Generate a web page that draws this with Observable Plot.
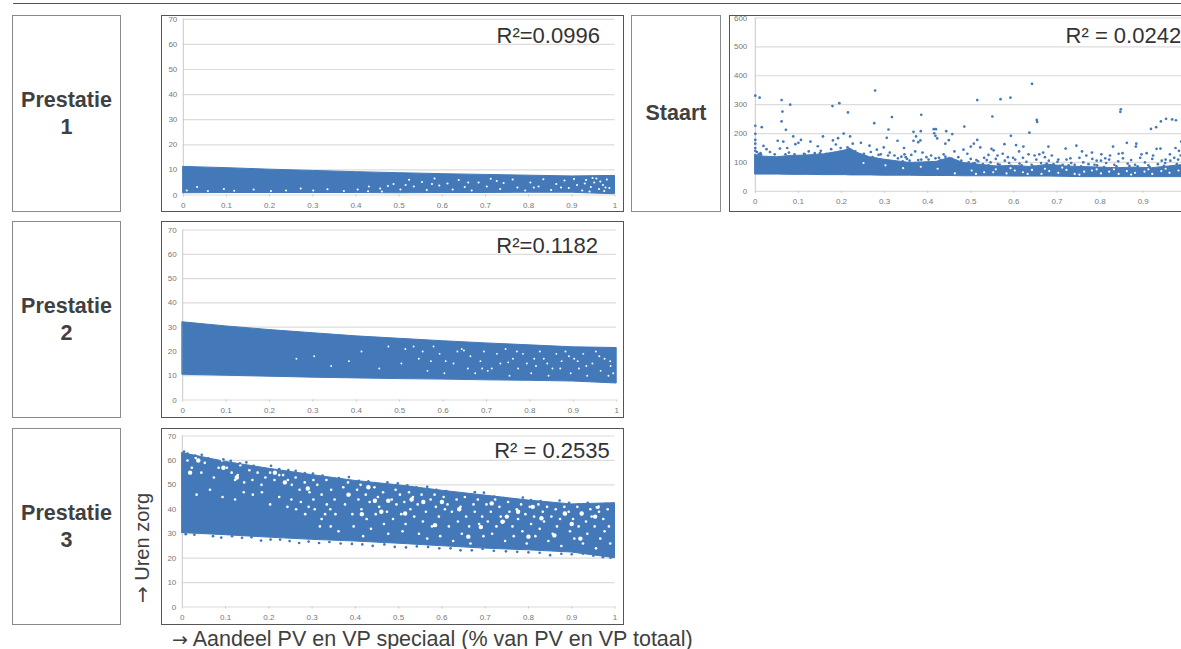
<!DOCTYPE html>
<html><head><meta charset="utf-8">
<script src="https://cdn.jsdelivr.net/npm/d3@7"></script>
<script src="https://cdn.jsdelivr.net/npm/@observablehq/plot@0.6"></script>
<style>
html,body{margin:0;padding:0;background:#fff;width:1181px;height:649px;overflow:hidden;font-family:"Liberation Sans",Arial,sans-serif}
.abs{position:absolute;box-sizing:border-box}
.box{border:1px solid #8a8a8a;display:flex;align-items:center;justify-content:center;text-align:center;font-weight:bold;font-size:21.5px;line-height:27px;color:#404040}
.frame{border:1.5px solid #555;overflow:hidden;background:#fff}
.arrow{font-family:"DejaVu Sans",sans-serif}
svg g[aria-label="dot"],svg g[aria-label="area"]{filter:blur(.4px)}
</style></head><body>
<div class="abs" style="left:13px;top:3px;width:1168px;height:1px;background:#555"></div>
<div id="page"></div>
<script>
const xTicks = [0,.1,.2,.3,.4,.5,.6,.7,.8,.9,1];
const hourTicks = [0,10,20,30,40,50,60,70];
const tailTicks = [0,100,200,300,400,500,600];
const boxLabels = ["Prestatie<br>1","Prestatie<br>2","Prestatie<br>3","Staart"];
const r2Labels = ["R²=0.0996","R²=0.1182","R² = 0.2535","R² = 0.0242"];
const yTitle = "Uren zorg";
const xTitle = "Aandeel PV en VP speciaal (% van PV en VP totaal)";

// Dense bands: lower and upper edge of the point cloud
const p1Low  = [.7,.8,.8,.8,.8,.7,.8,.8,.9,.9,.3];
const p1High = [11.2,10.7,10.1,9.6,9.1,8.7,8.3,8,7.7,7.4,7.6];
const p2Low  = [10.4,10,9.6,9.2,8.9,8.6,8.4,8.1,7.9,7.6,6.8];
const p2High = [32,30.3,28.8,27.5,26.2,25.2,24.2,23.3,22.5,21.7,21.4];
const p3Low  = [30.3,29.4,28.4,27.5,26.8,25.9,24.9,23.9,23.2,22.3,20];
const p3High = [63,59.4,56.6,54,51.6,49.8,47.6,45.6,43.6,42,42.5];

const tailX    = [0,.02,.05,.08,.12,.16,.19,.21,.22,.235,.266,.297,.328,.359,.39,.421,.452,.483,.52,.56,.6,.64,.68,.72,.76,.8,.84,.88,.92,.96,1];
const tailLow  = [58,58,58,57,57,56,56,56,55,55,55,54,54,54,53,53,53,52,52,52,51,51,51,50,49,49,49,49,49,49,49];
const tailHigh = [126,120,118,122,124,128,136,142,148,134,118,110,104,98,100,102,116,98,92,86,88,84,92,86,84,82,80,82,80,86,92];

// Points outside the band
const tailPoints = [[0,331],[.01,324],[.015,222],[0,227],[0,199],[.061,316],[.063,276],[.061,242],[.071,213],[.081,300],[.179,295],[.195,305],[.215,273],[.278,349],[.276,236],[.317,257],[.309,214],[.305,185],[.385,265],[.367,206],[.384,208],[.373,190],[.367,175],[.378,170],[.383,176],[.414,215],[.419,215],[.415,201],[.418,192],[.422,183],[.443,208],[.457,198],[.449,177],[.441,165],[.485,224],[.515,316],[.515,178],[.55,259],[.569,319],[.592,324],[.593,192],[.578,163],[.636,203],[.642,372],[.653,247],[.654,240],[.848,284],[.847,275],[.918,216],[.93,222],[.941,242],[.953,251],[.967,249],[.976,246],[.988,172],
[0,178],[0,165],[0,150],[0,140],[.019,157],[.026,146],[.052,175],[.065,172],[.074,150],[.088,190],[.093,163],[.106,178],[.1,168],[.128,172],[.157,190],[.145,156],[.18,176],[.187,162],[.192,184],[.205,200],[.22,190],[.226,165],[.245,168],[.265,158],[.298,152],[.33,175],[.345,150],[.346,128],[.5,155],[.507,165],[.522,152],[.548,147],[.605,160],[.622,155],[.68,155],[.72,148],[.745,158],[.83,155],[.862,168],[.883,155],[.884,165],[.931,147],[.94,148],[.975,150],[.983,140],
[.012,132],[.034,136],[.045,128],[.057,148],[.078,134],[.091,128],[.113,130],[.124,138],[.138,132],[.152,140],[.165,130],[.176,146],[.198,150],[.214,152],[.232,138],[.252,130],[.268,136],[.282,144],[.291,128],[.312,134],[.323,124],[.339,120],[.352,112],[.362,126],[.371,138],[.388,134],[.397,118],[.408,124],[.426,116],[.437,128],[.462,138],[.471,118],[.483,144],[.492,130],[.513,108],[.531,116],[.541,126],[.553,142],[.562,124],[.574,130],[.586,118],[.598,116],[.612,138],[.634,128],[.648,124],[.659,128],[.668,134],[.688,124],[.703,110],[.731,114],[.758,138],[.768,124],[.781,134],[.792,106],[.803,128],[.812,114],[.823,124],[.843,130],[.852,132],[.896,128],[.908,132],[.923,124],[.952,110],[.962,128],[.987,124],
[.5,112],[.509,98],[.517,104],[.528,94],[.537,108],[.546,100],[.558,112],[.567,92],[.579,106],[.589,98],[.603,110],[.613,96],[.621,116],[.629,102],[.641,92],[.652,110],[.663,98],[.672,118],[.681,106],[.692,94],[.701,102],[.713,92],[.722,110],[.733,98],[.741,92],[.752,116],[.761,100],[.773,94],[.782,112],[.793,90],[.802,106],[.814,98],[.821,110],[.833,92],[.842,104],[.853,114],[.864,96],[.872,108],[.881,92],[.893,116],[.904,100],[.912,90],[.921,112],[.934,94],[.943,106],[.951,98],[.963,106],[.972,116],[.981,110],[.992,102],
[.505,96],[.524,88],[.541,90],[.563,94],[.593,88],[.618,90],[.645,86],[.676,96],[.707,88],[.727,90],[.756,86],[.787,92],[.809,84],[.838,86],[.868,88],[.887,86],[.915,84],[.948,88],[.978,94],
[.358,106],[.378,108],[.402,110],[.418,114],[.441,120],[.456,112],[.478,106],[.349,118],[.331,114],[.308,124],[.286,126],[.272,118],[.251,122],[.24,128],[.004,136],[.008,128],[.342,104],[.385,110],[.43,108],[.466,104],[.495,100],[.013,128],[.15,132],[.115,128],[.07,128]];

// Points strung along the rough upper and lower rims of Prestatie 3
const p3Rim = [[.004,63.6],[.012,62.8],[.03,62],[.045,62.3],[.06,60.8],[.078,59.9],[.095,60.4],[.112,59.8],[.133,58.8],[.148,59.2],[.165,57.8],[.186,56.6],[.205,57.8],[.224,56.5],[.245,56],[.262,55.7],[.283,54.8],[.302,54.6],[.324,53.8],[.341,52.4],[.362,52.8],[.385,53.2],[.408,51.6],[.43,51.4],[.452,50.2],[.474,51],[.498,50.6],[.52,49.8],[.541,49],[.566,49.2],[.587,48],[.61,47.4],[.632,46.4],[.654,46],[.676,47],[.697,46.8],[.721,45.2],[.743,44.6],[.765,44],[.787,44.8],[.806,43.8],[.828,43.4],[.85,42.4],[.872,43.6],[.894,42.6],[.916,42],[.937,42.6],[.958,41.8],[.979,42.2],
[.008,29.8],[.028,29.6],[.05,30.6],[.071,29],[.09,28.4],[.115,29],[.138,28.3],[.16,28.6],[.182,27.2],[.204,27.6],[.226,27.6],[.248,27],[.27,26.2],[.292,26.8],[.316,26.2],[.34,26.6],[.366,26],[.392,25.8],[.416,25.6],[.44,25],[.467,25.6],[.491,24.6],[.517,24.4],[.542,24.8],[.568,24.6],[.594,24],[.62,24],[.643,23.2],[.669,23.2],[.694,23.8],[.72,23],[.748,22.8],[.774,22.6],[.8,22.4],[.826,22.2],[.85,21.2],[.876,21.8],[.9,21.6],[.926,21.8],[.95,21],[.972,20.4],[.99,20.2]];

// Gaps visible inside the bands
const p1Gaps = [[.008,1.8],[.032,3.2],[.057,1.6],[.094,2.4],[.118,1.7],[.163,2.2],[.203,1.6],[.238,1.8],[.272,2.6],[.301,1.8],[.334,2.3],[.372,1.6],[.404,2.2],[.428,1.5],[.456,2.6],[.474,3.6],[.487,4.4],[.503,2.2],[.523,6.1],[.534,3.4],[.553,5.2],[.564,2],[.582,6.6],[.593,3.8],[.612,4.6],[.624,2.2],[.638,6],[.652,3.2],[.668,1.8],[.684,5],[.703,3.4],[.712,6.5],[.734,2.4],[.742,4.8],[.763,6.2],[.774,3],[.792,1.8],[.804,5],[.823,3.4],[.834,6.3],[.852,2],[.864,4.4],[.883,5.8],[.893,2.8],[.912,4],[.924,1.8],[.933,6],[.944,3.2],[.952,5],[.963,2.4],[.972,4],[.981,6.2],[.987,2.8],[.941,1.4],[.957,6.6],[.975,1.6],[.515,4],[.576,4.4],[.66,5],[.726,5.6],[.812,3],[.875,3],[.905,6.4],[.948,6.8],[.966,5.4],[.978,3],[.93,4.6],[.46,1.4],[.43,3.4]];
const p2Gaps = [[.262,17],[.303,18],[.342,14],[.383,16],[.412,20],[.453,13],[.474,22],[.504,15],[.513,21],[.532,22],[.544,17],[.553,20],[.564,12],[.572,16],[.578,22],[.592,19],[.603,11],[.624,15],[.633,20],[.643,21],[.648,20.4],[.657,13],[.663,18],[.674,11],[.686,16],[.694,20],[.703,12],[.712,13],[.724,19],[.732,15],[.744,21],[.753,10],[.761,17],[.773,13],[.784,19],[.793,15],[.803,11],[.814,14],[.823,20],[.832,17],[.843,10],[.852,13],[.861,19],[.873,16],[.882,20],[.894,11],[.902,17],[.913,13],[.923,19],[.932,10],[.944,15],[.952,20],[.963,12],[.972,17],[.981,10],[.986,14],[.992,11],[.606,16],[.69,13],[.77,20],[.81,17],[.84,15],[.87,13],[.89,18],[.91,16],[.93,14],[.96,18],[.985,16],[.75,15.5]];
const p3Gaps = [[.012,60],[.022,57],[.031,61],[.044,55],[.052,59],[.073,53],[.084,57],[.092,60],[.103,57],[.114,55],[.122,52],[.134,58],[.128,54],[.143,51],[.155,56],[.162,52],[.174,55],[.183,50],[.192,53],[.203,55],[.213,52],[.224,54],[.233,54],[.244,52],[.253,50],[.262,53],[.271,48],[.283,51],[.294,47],[.303,52],[.312,50],[.322,46],[.333,52],[.344,48],[.352,44],[.122,44],[.163,46],[.203,42],[.224,45],[.243,41],[.263,40],[.284,38],[.303,44],[.306,40],[.322,36],[.334,42],[.343,33],[.354,38],[.361,31],[.064,48],[.033,46],[.093,45],[.142,47],[.184,47],[.252,44],[.274,43],[.292,41],[.318,33],[.342,40],[.33,38],
[.372,49],[.376,42],[.383,51],[.386,46],[.393,38],[.396,33],[.404,48],[.407,44],[.412,50],[.414,40],[.418,29],[.424,46],[.426,36],[.433,43],[.436,32],[.444,49],[.447,38],[.452,45],[.455,41],[.464,47],[.466,34],[.473,39],[.476,30],[.484,44],[.487,36],[.493,48],[.495,42],[.503,46],[.506,38],[.509,31],[.513,43],[.516,34],[.524,47],[.527,40],[.533,45],[.536,37],[.544,42],[.547,30],[.553,46],[.556,35],[.563,39],[.566,28],[.574,44],[.577,33],[.583,46],[.586,41],[.593,37],[.596,29],[.604,45],[.607,40],[.613,42],[.616,33],[.623,39],[.626,27],[.634,44],[.637,35],[.643,41],[.646,30],[.653,45],[.656,37],[.663,33],[.666,26],[.673,42],[.676,39],[.683,44],[.686,34],[.693,37],[.696,29],[.703,42],[.706,35],[.713,39],[.716,30],[.723,44],[.726,33],[.733,41],[.736,37],[.743,35],[.746,27],[.753,43],[.756,39],[.763,33],[.766,29],[.773,40],[.776,36],[.783,42],[.786,31],[.793,38],[.796,26],[.803,41],[.806,34],[.813,37],[.816,29],[.823,42],[.826,32],[.833,39],[.836,35],[.843,41],[.846,27],[.853,37],[.856,30],[.863,40],[.866,33],[.873,36],[.876,25],[.883,41],[.886,38],[.893,39],[.896,31],[.903,36],[.906,28],[.913,41],[.916,33],[.923,38],[.926,26],[.933,35],[.936,30],[.943,40],[.946,37],[.953,33],[.956,24],[.963,39],[.966,28],[.973,36],[.976,31],[.983,40],[.986,33],[.989,26]];
const p3Blobs = [[.037,60],[.018,55],[.095,57],[.126,53],[.214,55],[.237,51],[.29,48.5],[.43,49],[.476,43.5],[.445,43.5],[.384,46],[.415,38],[.557,43],[.6,43],[.715,42.4],[.776,39],[.83,36.3],[.884,38.3],[.923,38.3],[.954,37],[.74,34.9],[.515,38.3],[.584,33.5],[.661,28.8],[.8,28.8],[.86,29.3],[.92,28],[.69,32.7],[.64,40],[.75,37],[.81,41],[.9,34],[.96,41],[.53,44],[.46,39]];
const tailGaps = [[.463,62],[.502,72],[.531,66],[.558,76],[.583,62],[.602,72],[.621,66],[.642,74],[.664,60],[.682,70],[.703,64],[.722,74],[.741,60],[.763,68],[.781,72],[.802,62],[.821,68],[.843,60],[.862,70],[.881,64],[.903,68],[.921,60],[.942,70],[.961,64],[.982,72],[.251,98],[.302,90],[.343,80],[.384,85],[.423,78],[.512,60],[.552,66],[.592,80],[.632,60],[.672,78],[.712,82],[.752,58],[.792,76],[.832,76],[.872,58],[.912,76],[.952,78]];

const blue = "#4479b9";
const panels = [
 {left:161,top:15,w:463,h:197,mL:20.8,mR:7.5,mT:2.8,mB:15.5,dom:[0,1],ticks:xTicks,yDom:[0,70],yTicks:hourTicks,low:p1Low,high:p1High,gaps:p1Gaps,blobs:[],gapR:1.05,pts:[],r2:r2Labels[0],rx:.965,ry:63.3,yPad:6},
 {left:161,top:221,w:463,h:197,mL:20.2,mR:5.8,mT:7.5,mB:16.5,dom:[0,1],ticks:xTicks,yDom:[0,70],yTicks:hourTicks,low:p2Low,high:p2High,gaps:p2Gaps,blobs:[],gapR:.95,pts:[],r2:r2Labels[1],rx:.957,ry:63.4,yPad:6},
 {left:161,top:428,w:463,h:197,mL:19.8,mR:7.5,mT:6.5,mB:16.5,dom:[0,1],ticks:xTicks,yDom:[0,70],yTicks:hourTicks,low:p3Low,high:p3High,gaps:p3Gaps,blobs:p3Blobs,gapR:1.3,pts:p3Rim,r2:r2Labels[2],rx:.988,ry:63.9,yPad:6},
 {left:729,top:15,w:460,h:197,mL:24.8,mR:1.2,mT:1.5,mB:19.2,dom:[0,1],ticks:xTicks.slice(0,10),yDom:[0,600],yTicks:tailTicks,low:tailLow,high:tailHigh,xs:tailX,gaps:tailGaps,blobs:[],gapR:1.1,pts:tailPoints,r2:r2Labels[3],rx:.988,ry:538,yPad:8}
];

const page = document.getElementById("page");
function addBox(html,l,t,w,h){const d=document.createElement("div");d.className="abs box";d.style.cssText=`left:${l}px;top:${t}px;width:${w}px;height:${h}px`;d.innerHTML=html;page.appendChild(d);}
addBox(boxLabels[0],12,15,109,197);
addBox(boxLabels[1],12,221,109,197);
addBox(boxLabels[2],12,428,109,197);
addBox(boxLabels[3],631,15,90,197);

for (const p of panels){
  const xs = p.xs || xTicks;
  const band = xs.map((x,i)=>({x,low:p.low[i],high:p.high[i]}));
  const w = p.w-3, h = p.h-3;
  const chart = Plot.plot({
    width:w,height:h,marginLeft:p.mL,marginRight:p.mR,marginTop:p.mT,marginBottom:p.mB,
    x:{domain:p.dom},y:{domain:p.yDom},
    style:{background:"transparent",color:"#777",fontFamily:'"Liberation Sans",Arial,sans-serif',fontSize:"8px",overflow:"hidden"},
    marks:[
      Plot.ruleY(p.yTicks,{stroke:"#dcdcdc",strokeWidth:1.2}),
      Plot.ruleX([0],{stroke:"#c8c8c8"}),
      Plot.axisX({ticks:p.ticks,tickFormat:d=>String(d),tickSize:2,tickPadding:5,stroke:"#c8c8c8",label:null,fontSize:8}),
      Plot.axisY({ticks:p.yTicks,tickSize:0,tickPadding:p.yPad,label:null,fontSize:8}),
      Plot.areaY(band,{x:"x",y1:"low",y2:"high",fill:blue,stroke:blue,strokeWidth:1}),
      Plot.dot(p.gaps,{x:d=>d[0],y:d=>d[1],r:p.gapR,fill:"#fff",stroke:"none"}),
      Plot.dot(p.blobs,{x:d=>d[0],y:d=>d[1],r:2.2,fill:"#fff",stroke:"none"}),
      Plot.dot(p.pts,{x:d=>d[0],y:d=>d[1],r:1.35,fill:blue,stroke:"none"}),
      Plot.text([p.r2],{x:()=>p.rx,y:()=>p.ry,text:d=>d,textAnchor:"end",fontSize:22,fill:"#333",stroke:"none"})
    ]
  });
  const d=document.createElement("div");d.className="abs frame";
  d.style.cssText=`left:${p.left}px;top:${p.top}px;width:${p.w}px;height:${p.h}px`;
  d.appendChild(chart);page.appendChild(d);
}
const yt=document.createElement("div");yt.className="abs";
yt.style.cssText="left:142px;top:548px;white-space:nowrap;font-size:20px;color:#404040;transform:translate(-50%,-50%) rotate(-90deg)";
yt.innerHTML='<span class="arrow">→</span> '+yTitle;page.appendChild(yt);
const xt=document.createElement("div");xt.className="abs";
xt.style.cssText="left:172px;top:628px;white-space:nowrap;font-size:21.5px;line-height:23px;color:#404040";
xt.innerHTML='<span class="arrow" style="font-size:19px">→</span> '+xTitle;page.appendChild(xt);
</script>
</body></html>
